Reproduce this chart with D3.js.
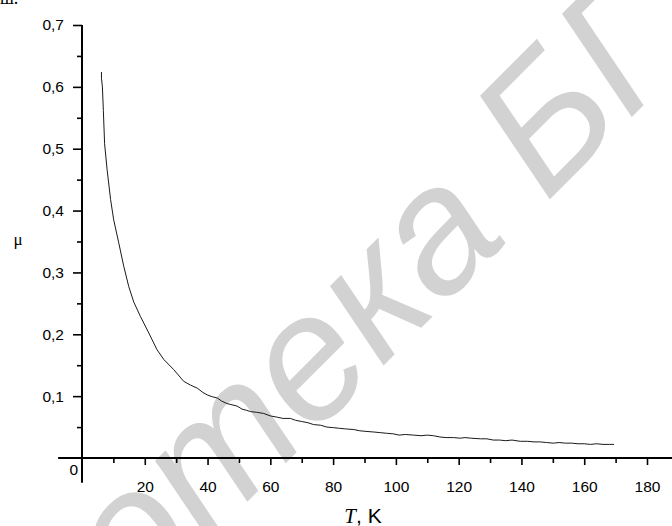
<!DOCTYPE html>
<html><head><meta charset="utf-8">
<script src="https://cdn.jsdelivr.net/npm/d3@7/dist/d3.min.js"></script>
<style>
html,body{margin:0;padding:0;background:#fff;}
svg{display:block;}
</style></head>
<body>
<svg id="chart" width="672" height="526"></svg>
<script>
// Data: temperature T (K) and mobility μ
const temps = [6.2,6.2,6.5,6.8,7.2,8.0,9.1,10.1,11.7,13.3,14.9,16.5,18.6,21.3,23.9,26.1,29.2,32.4,34.5,36.7,38.5,39.9,41.5,43.1,44.5,46.2,47.8,49.4,51.0,52.5,53.7,55.5,57.9,60.0,62.2,64.0,66.4,68.0,70.0,72.0,73.8,76.0,78.0,80.2,82.0,84.0,86.6,88.5,90.5,93.0,95.0,97.0,99.3,101.0,103.0,105.7,108.0,110.0,112.0,114.0,116.0,118.4,120.5,122.0,124.0,127.0,129.0,131.0,133.0,135.0,137.0,139.6,142.0,144.0,146.0,148.0,150.2,152.0,154.0,156.0,158.0,160.0,162.0,164.0,166.0,168.0,169.5];
const mu = [0.624,0.614,0.600,0.562,0.508,0.466,0.418,0.385,0.348,0.310,0.277,0.252,0.229,0.202,0.175,0.159,0.143,0.124,0.118,0.113,0.106,0.102,0.099,0.097,0.092,0.088,0.086,0.084,0.079,0.077,0.075,0.074,0.072,0.068,0.066,0.064,0.064,0.061,0.059,0.057,0.054,0.053,0.050,0.049,0.048,0.047,0.046,0.044,0.043,0.042,0.041,0.040,0.039,0.037,0.038,0.037,0.036,0.037,0.036,0.034,0.033,0.033,0.032,0.033,0.032,0.031,0.031,0.029,0.029,0.028,0.029,0.027,0.027,0.026,0.026,0.025,0.024,0.025,0.024,0.024,0.023,0.023,0.022,0.023,0.022,0.022,0.022];
const xMajorTicks = [20,40,60,80,100,120,140,160,180];
const xMinorTicks = [10,30,50,70,90,110,130,150,170];
const yMajorTicks = [0.1,0.2,0.3,0.4,0.5,0.6,0.7];
const yMinorTicks = [0.05,0.15,0.25,0.35,0.45,0.55,0.65];
const xLabel = ["T", ", K"];
const yLabel = "μ";
const originLabel = "0";
const watermark = "Библиотека БГУ";
const topText = "ш.";

const svg = d3.select("#chart");
const x = d3.scaleLinear().domain([0,180]).range([82,647]);
const y = d3.scaleLinear().domain([0,0.7]).range([458,25]);
const fmt = d => String(d).replace(".", ",");

// watermark (drawn first, underneath)
const wm = svg.append("text")
  .attr("transform", "translate(546,203) rotate(-45)")
  .attr("x", 0).attr("y", 0)
  .style("font-family", "'Liberation Sans',Arial,sans-serif")
  .style("font-style", "italic")
  .style("font-size", "178px")
  .attr("fill", "#d2d2d2")
  .text(watermark);
const idx = watermark.lastIndexOf("Б");
try {
  const off = wm.node().getSubStringLength(0, idx);
  wm.attr("x", -off);
} catch(e) {}

// partial text at top
svg.append("text").attr("x", 0).attr("y", 4)
  .style("font-family", "'Liberation Serif','Times New Roman',serif")
  .style("font-size", "18px").attr("fill", "#000").text(topText);

// axes
const font = "'Liberation Sans',Arial,sans-serif";
const gx = svg.append("g").attr("transform", `translate(0,${y(0)})`)
  .call(d3.axisBottom(x).tickValues(xMajorTicks).tickSize(7).tickPadding(16).tickFormat(d => d));
gx.select(".domain").remove();
gx.selectAll(".tick line").attr("stroke", "#000").attr("stroke-width", 1.6);
gx.selectAll(".tick text").style("font-family", font).style("font-size", "15.5px").attr("fill", "#000");
const gxm = svg.append("g").attr("transform", `translate(0,${y(0)})`)
  .call(d3.axisBottom(x).tickValues(xMinorTicks).tickSize(5).tickFormat(""));
gxm.select(".domain").remove();
gxm.selectAll(".tick line").attr("stroke", "#000").attr("stroke-width", 1.6);

const gy = svg.append("g").attr("transform", `translate(${x(0)},0)`)
  .call(d3.axisLeft(y).tickValues(yMajorTicks).tickSize(9).tickPadding(9).tickFormat(fmt));
gy.select(".domain").remove();
gy.selectAll(".tick line").attr("stroke", "#000").attr("stroke-width", 1.6);
gy.selectAll(".tick text").style("font-family", font).style("font-size", "15.5px").attr("fill", "#000");
const gym = svg.append("g").attr("transform", `translate(${x(0)},0)`)
  .call(d3.axisLeft(y).tickValues(yMinorTicks).tickSize(5).tickFormat(""));
gym.select(".domain").remove();
gym.selectAll(".tick line").attr("stroke", "#000").attr("stroke-width", 1.6);

// axis lines crossing at origin
svg.append("line").attr("x1", x(-7.6)).attr("x2", 672).attr("y1", y(0)).attr("y2", y(0))
  .attr("stroke", "#000").attr("stroke-width", 2);
svg.append("line").attr("x1", x(0)).attr("x2", x(0)).attr("y1", y(0.7)).attr("y2", y(-0.04))
  .attr("stroke", "#000").attr("stroke-width", 2);

// origin label
svg.append("text").attr("x", x(0) - 4).attr("y", y(0) + 17).attr("text-anchor", "end")
  .style("font-family", font).style("font-size", "15.5px").attr("fill", "#000").text(originLabel);

// curve
const pts = temps.map((t, i) => [t, mu[i]]);
svg.append("path").datum(pts)
  .attr("d", d3.line().x(d => x(d[0])).y(d => y(d[1])))
  .attr("fill", "none").attr("stroke", "#1a1a1a").attr("stroke-width", 1);

// axis titles
const xl = svg.append("text").attr("x", 363).attr("y", 523).attr("text-anchor", "middle")
  .style("font-size", "21px").attr("fill", "#000");
xl.append("tspan").style("font-family", "'Liberation Serif','Times New Roman',serif").style("font-style", "italic").text(xLabel[0]);
xl.append("tspan").style("font-family", font).text(xLabel[1]);

svg.append("text").attr("x", 18).attr("y", 245).attr("text-anchor", "middle")
  .style("font-family", "'Liberation Serif','Times New Roman',serif").style("font-size", "17px").attr("fill", "#000").text(yLabel);
</script>
</body></html>
